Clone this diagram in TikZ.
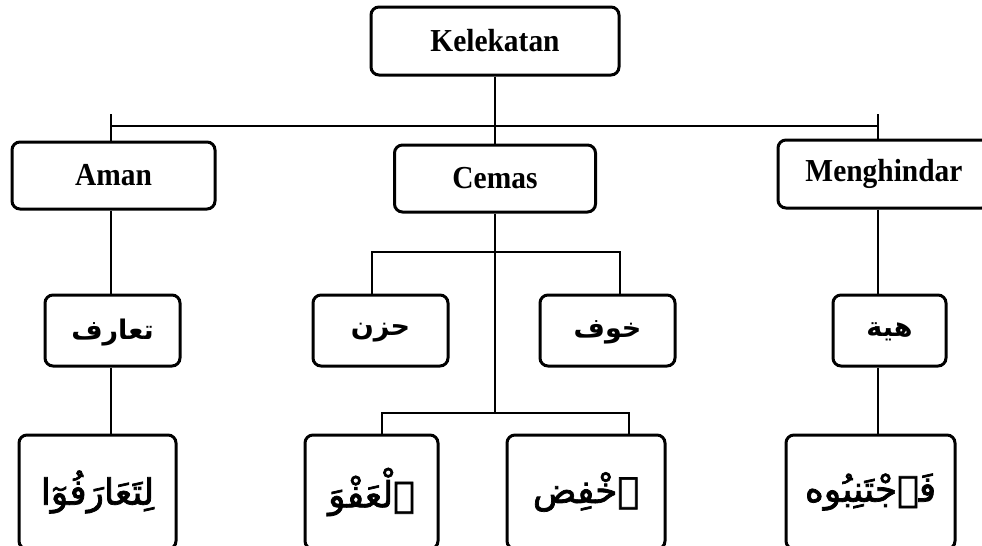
\documentclass[tikz,border=0pt]{standalone}
\usepackage{fontspec}
\setmainfont{Liberation Serif}[FakeStretch=0.92]
\newfontfamily\arabicfont[Script=Arabic]{DejaVu Sans}
\newfontfamily\arabicfat[Script=Arabic,FakeBold=2]{DejaVu Sans}
\TeXXeTstate=1
\begin{document}
\begin{tikzpicture}[x=0.5pt,y=-0.5pt,
  box/.style={draw,line width=1.5pt,rounded corners=4pt,inner sep=0pt,
    font=\fontsize{16}{19}\selectfont\bfseries},
  abox/.style={box,font=\arabicfont\fontsize{13.5}{16}\selectfont\bfseries},
  bbox/.style={box,font=\arabicfat\fontsize{18}{22}\selectfont},
  conn/.style={line width=1pt}]
\useasboundingbox (0,0) rectangle (982,546);
\begin{scope}
\clip (0,0) rectangle (982,546);
% top
\node[box,minimum width=124pt,minimum height=34pt] (kel) at (495,41) {Kelekatan};
\node[box,minimum width=101.5pt,minimum height=33.5pt] (aman) at (113.5,175.5) {Aman};
\node[box,minimum width=100.5pt,minimum height=33.5pt] (cemas) at (495,178.5) {Cemas};
\node[box,minimum width=106pt,minimum height=34pt] (meng) at (884,174) {Menghindar};
% middle
\node[abox,minimum width=67.5pt,minimum height=35.5pt,text depth=1pt] (taaruf) at (112.5,330.5) {\beginR تعارف\endR};
\node[abox,minimum width=67.5pt,minimum height=35.5pt,text depth=1pt] (huzn) at (380.5,330.5) {\beginR حزن\endR};
\node[abox,minimum width=67.5pt,minimum height=35.5pt,text depth=1pt] (khawf) at (607.5,330.5) {\beginR خوف\endR};
\node[abox,minimum width=56.5pt,minimum height=35.5pt,text depth=1pt] (hayba) at (889.5,330.5) {\beginR هية\endR};
% bottom
\node[bbox,minimum width=78.5pt,minimum height=57pt] (lita) at (97.5,492) {\beginR لِتَعَارَفُوٓا\endR};
\node[bbox,minimum width=66.5pt,minimum height=57pt] (afw) at (371.5,492) {\beginR ٱلْعَفْوَ\endR};
\node[bbox,minimum width=79pt,minimum height=57pt] (ikh) at (586,492) {\beginR ٱخْفِض\endR};
\node[bbox,minimum width=84.5pt,minimum height=57pt] (fajt) at (870.5,492) {\beginR فَٱجْتَنِبُوه\endR};
\end{scope}
% bus coordinates
\coordinate (busL) at (111,120);
\coordinate (busR) at (878,120);
\coordinate (cbusL) at (372,252);
\coordinate (cbusR) at (620,252);
\coordinate (lbusL) at (382,413);
\coordinate (lbusR) at (629,413);
\coordinate (lbusM) at (495,413);
% connectors
\draw[conn] (kel.south) -- (cemas.north);
\draw[conn] ([yshift=-3pt]busL) -- ([yshift=-3pt]busR);
\draw[conn] ([yshift=3pt]busL) -- ([yshift=-3pt]busL);
\draw[conn] ([yshift=3pt]busR) -- ([yshift=-3pt]busR);
\draw[conn] (busL) -- (busL |- aman.north);
\draw[conn] (busR) -- (busR |- meng.north);
\draw[conn] (aman.south -| busL) -- (taaruf.north -| busL);
\draw[conn] (taaruf.south -| busL) -- (lita.north -| busL);
\draw[conn] (meng.south -| busR) -- (hayba.north -| busR);
\draw[conn] (hayba.south -| busR) -- (fajt.north -| busR);
\draw[conn] (cemas.south) -- (lbusM);
\draw[conn] (huzn.north -| cbusL) -- (cbusL) -- (cbusR) -- (khawf.north -| cbusR);
\draw[conn] (afw.north -| lbusL) -- (lbusL) -- (lbusR) -- (ikh.north -| lbusR);
\end{tikzpicture}
\end{document}
